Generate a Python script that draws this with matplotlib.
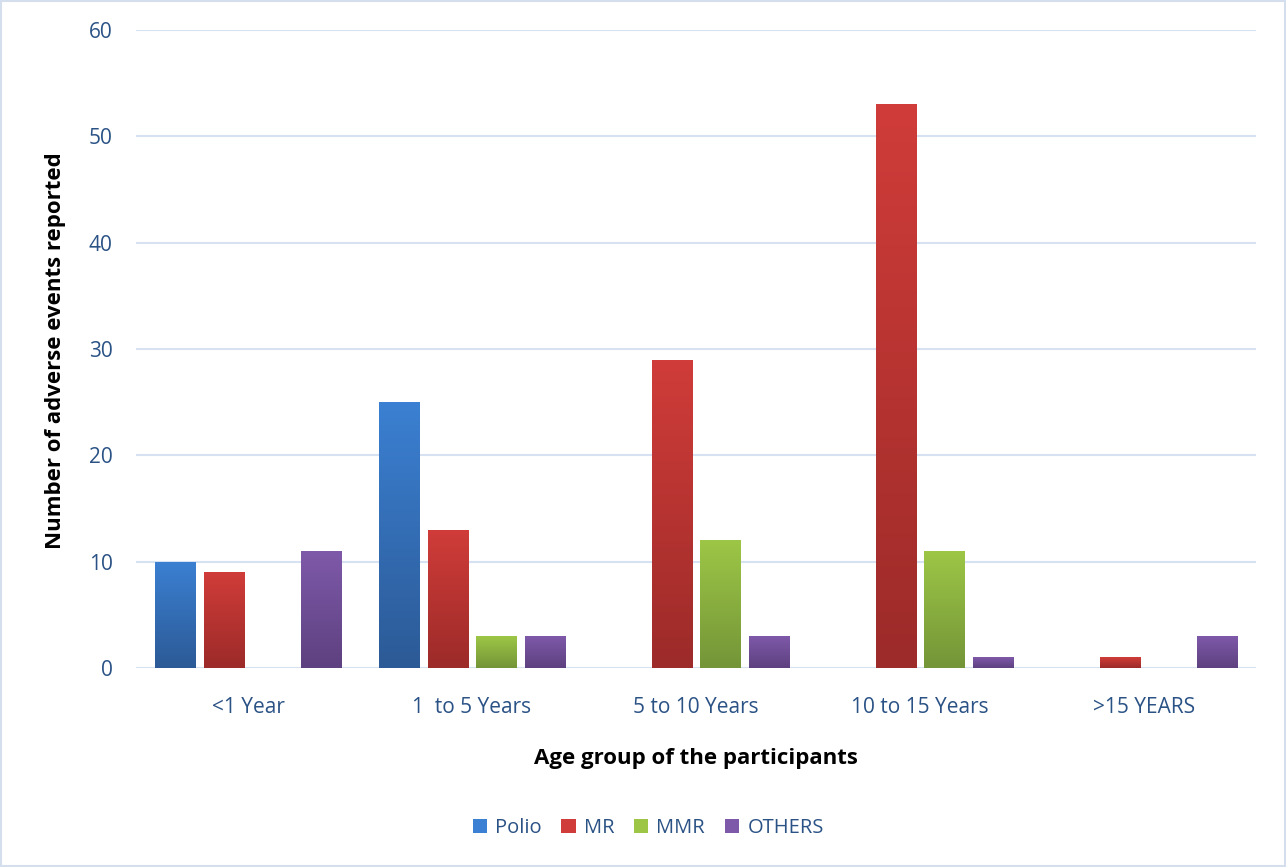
import numpy as np
import matplotlib
matplotlib.use("Agg")
import matplotlib.pyplot as plt
from matplotlib.colors import LinearSegmentedColormap
from matplotlib.patches import Patch

# data
age_groups = ["<1 Year", "1  to 5 Years", "5 to 10 Years", "10 to 15 Years", ">15 YEARS"]
series = ["Polio", "MR", "MMR", "OTHERS"]
polio = [10, 25, 0, 0, 0]
mr = [9, 13, 29, 53, 1]
mmr = [0, 3, 12, 11, 0]
others = [11, 3, 3, 1, 3]
values = [polio, mr, mmr, others]

# (top colour, bottom colour) for the excel-like gradient
grad = [("#3b80d2", "#2c5a96"),
        ("#d03c39", "#9c2b29"),
        ("#9dc646", "#749538"),
        ("#7e59a9", "#5e4180")]

plt.rcParams['font.family'] = ['Open Sans', 'DejaVu Sans']
tick_col = "#2a5285"
grid_col = "#d6e2f2"

fig = plt.figure(figsize=(12.86, 8.67), dpi=100)
ax = fig.add_axes([0.1058, 0.2295, 0.8709, 0.7359])

x = np.arange(len(age_groups))
w = 0.18
step = 0.217

for i, (name, vals) in enumerate(zip(series, values)):
    top, bot = grad[i]
    cmap = LinearSegmentedColormap.from_list(name, [bot, top])
    offs = x + (i - 1.5) * step
    bars = ax.bar(offs, vals, width=w, color=top, zorder=3, linewidth=0)
    for b, v in zip(bars, vals):
        if v == 0:
            continue
        bx, by = b.get_x(), b.get_y()
        bw, bh = b.get_width(), b.get_height()
        # soft shadow below the bar
        ax.bar(bx + bw / 2, 0.6, width=bw, bottom=-0.6, color="#000000",
               alpha=0.12, zorder=2, linewidth=0)
        img = ax.imshow(np.linspace(0, 1, 100).reshape(-1, 1), cmap=cmap,
                        extent=[bx, bx + bw, by, by + bh], origin="lower",
                        aspect="auto", zorder=4)
        img.set_clip_path(b)

ax.set_xlim(-0.5, len(age_groups) - 0.5)
ax.set_ylim(0, 60)
ax.set_yticks(range(0, 61, 10))
ax.set_xticks(x)
ax.set_xticklabels(age_groups)
ax.yaxis.grid(True, color=grid_col, linewidth=1.5, zorder=0)
ax.set_axisbelow(True)
for s in ax.spines.values():
    s.set_visible(False)
ax.tick_params(axis="both", length=0, colors=tick_col, labelsize=15)
ax.tick_params(axis="y", pad=17)
ax.tick_params(axis="x", pad=21)

fig.text(0.043, 0.596, "Number of adverse events reported", rotation=90,
         ha="center", va="center", fontsize=16, fontweight="bold", color="black")
fig.text(0.541, 0.1257, "Age group of the participants",
         ha="center", va="center", fontsize=16, fontweight="bold", color="black")

handles = [Patch(facecolor=grad[i][0], label=s) for i, s in enumerate(series)]
leg = fig.legend(handles=handles, loc="center", bbox_to_anchor=(0.504, 0.045),
                 ncol=4, frameon=False, fontsize=14.5, handlelength=0.7,
                 handleheight=0.7, handletextpad=0.4, columnspacing=1.0)
for t in leg.get_texts():
    t.set_color(tick_col)

# light border round the whole chart
fig.patches.append(plt.Rectangle((0.001, 0.001), 0.998, 0.998, transform=fig.transFigure,
                                 fill=False, edgecolor="#d4deec", linewidth=1.5))

fig.savefig("out.png", dpi=100)
